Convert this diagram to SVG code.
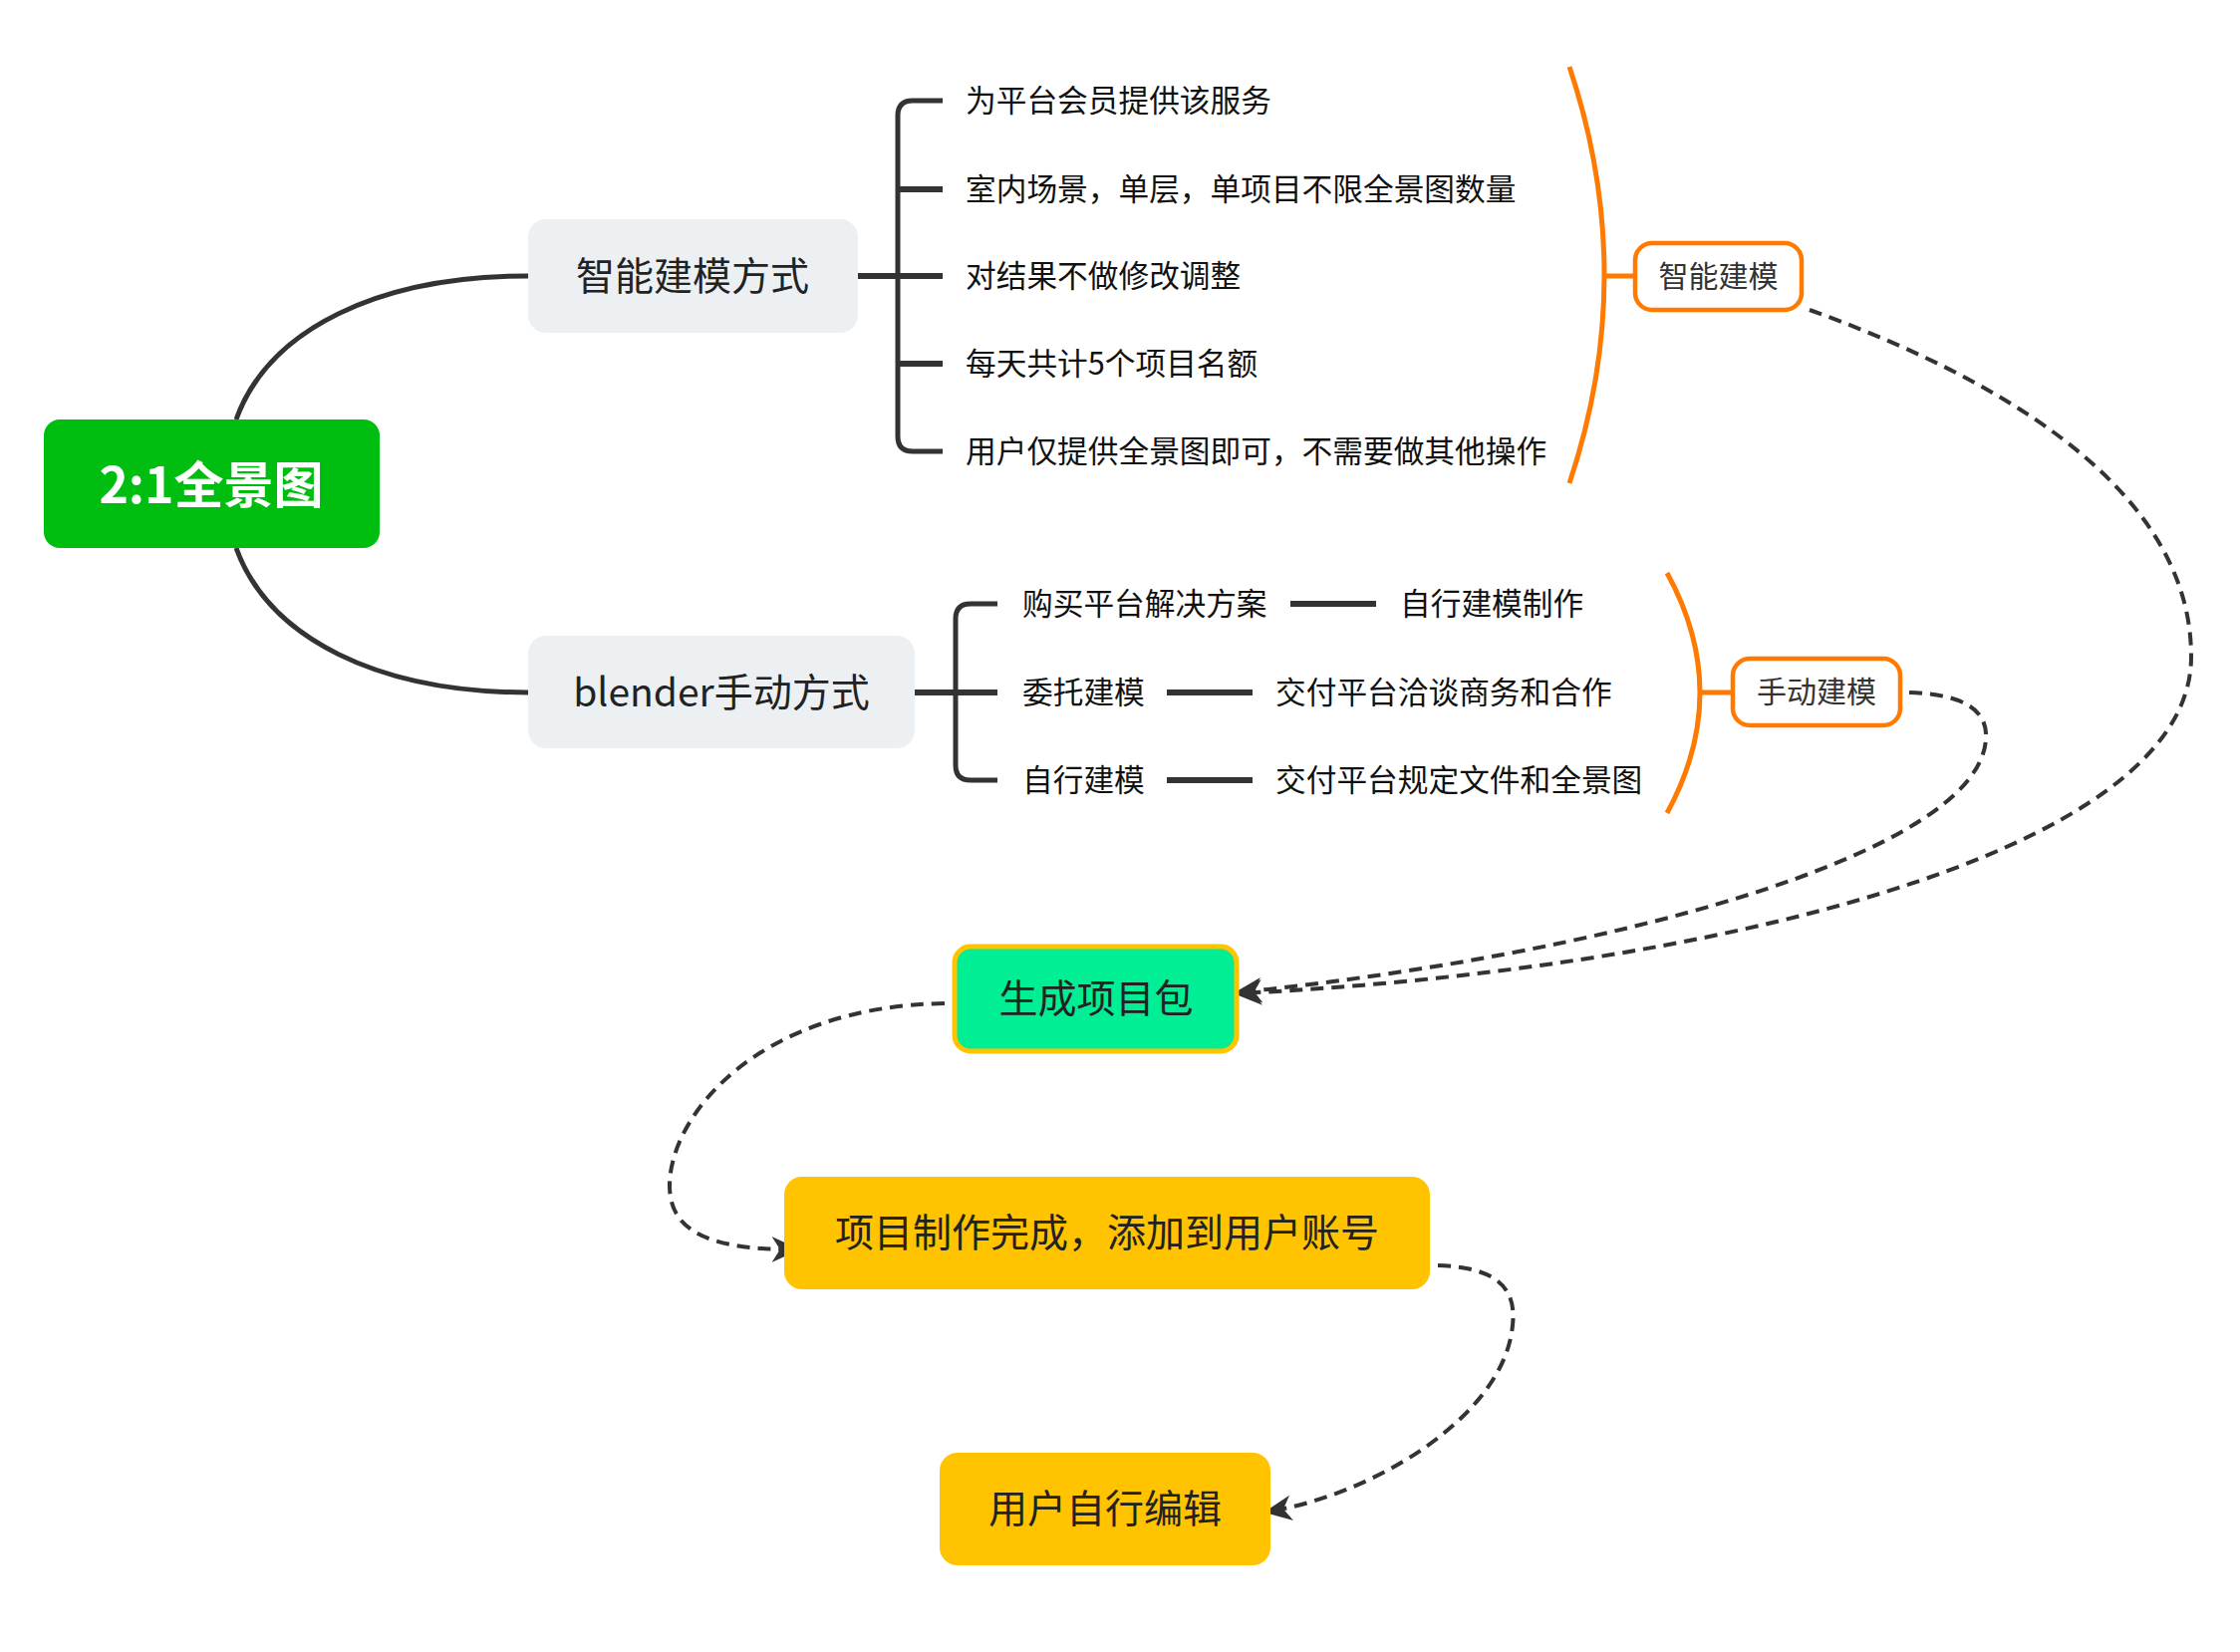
<svg xmlns="http://www.w3.org/2000/svg" width="2248" height="1658" viewBox="0 0 2248 1658">
<defs>
<style>
text{font-family:"Noto Sans CJK SC","Noto Sans",sans-serif;dominant-baseline:central}
.node-t{font-size:39px;fill:#222;text-anchor:middle}
.item{font-size:30.7px;fill:#111}
.tag{font-size:30px;fill:#333;text-anchor:middle}
.line{fill:none;stroke:#333;stroke-width:5;stroke-linecap:butt}
.bar{fill:none;stroke:#333;stroke-width:6}
.arc{fill:none;stroke:#FF7A00;stroke-width:5}
.dash{fill:none;stroke:#333;stroke-width:4;stroke-dasharray:13 8}
.sub{fill:#ECF0F3}
.box{fill:#FFC300}
</style>
<marker id="arrow" viewBox="0 0 12 12" refX="10" refY="6" markerWidth="28" markerHeight="28" orient="auto" markerUnits="userSpaceOnUse">
<path d="M0,0.5 L12,6 L0,11.5 L3.5,6 z" fill="#333"/>
</marker>
</defs>
<rect width="2248" height="1658" fill="#fff"/>

<g id="connectors">
<path class="line" d="M237,421 C270,330 380,277 530,277"/>
<path class="line" d="M237,550 C270,641 380,695 530,695"/>
<path class="bar" d="M861,277 H901"/>
<path class="line" d="M946,101 H916 Q901,101 901,116 V438 Q901,453 916,453 H946"/>
<path class="bar" d="M901,190 H946 M901,277 H946 M901,365 H946"/>
<path class="bar" d="M918,695 H959"/>
<path class="line" d="M1001,606 H974 Q959,606 959,621 V768 Q959,783 974,783 H1001"/>
<path class="bar" d="M959,695 H1001"/>
<path class="bar" d="M1295,606 H1381 M1171,695 H1257 M1171,783 H1257"/>
<path class="arc" d="M1575,67 Q1645,276 1575,485"/>
<path class="arc" d="M1610,277 H1641"/>
<path class="arc" d="M1673,575 Q1739,695 1673,816"/>
<path class="arc" d="M1706,695 H1739"/>
<path class="dash" marker-end="url(#arrow)" d="M1816,311 C1980,370 2200,480 2199,660 C2198,860 1700,975 1243,997"/>
<path class="dash" marker-end="url(#arrow)" d="M1916,695 C1975,697 1995,715 1993,742 C1985,860 1600,960 1243,996"/>
<path class="dash" marker-end="url(#arrow)" d="M948,1007 C760,1010 672,1120 672,1190 C672,1240 720,1254 798,1254"/>
<path class="dash" marker-end="url(#arrow)" d="M1443,1270 C1505,1272 1522,1295 1518,1330 C1510,1420 1380,1500 1273,1517"/>
</g>

<g id="root">
<rect x="44" y="421" width="337" height="129" rx="16" fill="#00BE0F"/>
<text x="212" y="483" font-size="50" font-weight="bold" fill="#fff" text-anchor="middle">2:1全景图</text>
</g>

<g id="smart">
<rect class="sub" x="530" y="220" width="331" height="114" rx="18"/>
<text class="node-t" x="695" y="274">智能建模方式</text>
</g>
<g id="blender">
<rect class="sub" x="530" y="638" width="388" height="113" rx="18"/>
<text class="node-t" x="724" y="692">blender手动方式</text>
</g>

<g id="smart-items">
<text class="item" x="969" y="98">为平台会员提供该服务</text>
<text class="item" x="969" y="187">室内场景，单层，单项目不限全景图数量</text>
<text class="item" x="969" y="274">对结果不做修改调整</text>
<text class="item" x="969" y="362">每天共计5个项目名额</text>
<text class="item" x="969" y="450">用户仅提供全景图即可，不需要做其他操作</text>
</g>

<g id="blender-items">
<text class="item" x="1026" y="603">购买平台解决方案</text>
<text class="item" x="1405" y="603">自行建模制作</text>
<text class="item" x="1026" y="692">委托建模</text>
<text class="item" x="1280" y="692">交付平台洽谈商务和合作</text>
<text class="item" x="1026" y="780">自行建模</text>
<text class="item" x="1280" y="780">交付平台规定文件和全景图</text>
</g>

<g id="tag-smart">
<rect x="1641" y="244" width="167" height="67" rx="17" fill="#fff" stroke="#FF7A00" stroke-width="4.5"/>
<text class="tag" x="1724.5" y="275">智能建模</text>
</g>
<g id="tag-manual">
<rect x="1739" y="661" width="168" height="67" rx="17" fill="#fff" stroke="#FF7A00" stroke-width="4.5"/>
<text class="tag" x="1823" y="692">手动建模</text>
</g>

<g id="package">
<rect x="958" y="950" width="283" height="105" rx="16" fill="#00EE94" stroke="#FFC300" stroke-width="5"/>
<text class="node-t" x="1100" y="999" fill="#333">生成项目包</text>
</g>
<g id="done">
<rect class="box" x="787" y="1181" width="648" height="113" rx="18"/>
<text class="node-t" x="1111" y="1234">项目制作完成，添加到用户账号</text>
</g>
<g id="edit">
<rect class="box" x="943" y="1458" width="332" height="113" rx="18"/>
<text class="node-t" x="1109" y="1511">用户自行编辑</text>
</g>
</svg>
